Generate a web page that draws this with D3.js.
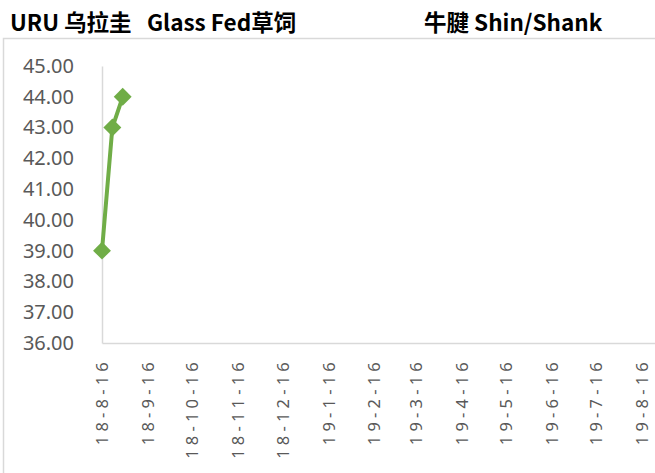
<!DOCTYPE html>
<html>
<head>
<meta charset="utf-8">
<script src="https://cdn.jsdelivr.net/npm/d3@7"></script>
<style>
  body { margin: 0; background: #fff; }
  svg { display: block; }
</style>
</head>
<body>
<svg id="chart"></svg>
<script>
const titleLeft = "URU 乌拉圭\u00a0\u00a0\u00a0Glass Fed草饲";
const titleRight = "牛腱 Shin/Shank";

const dates = ["2018-08-16", "2018-08-23", "2018-08-30"];
const prices = [39, 43, 44];

const tickDates = [
  "2018-08-16", "2018-09-16", "2018-10-16", "2018-11-16", "2018-12-16",
  "2019-01-16", "2019-02-16", "2019-03-16", "2019-04-16", "2019-05-16",
  "2019-06-16", "2019-07-16", "2019-08-16"
];
const yTicks = [36, 37, 38, 39, 40, 41, 42, 43, 44, 45];

const width = 655;
const height = 473;
const parse = d3.timeParse("%Y-%m-%d");

const svg = d3.select("#chart").attr("width", width).attr("height", height);

// outer chart border (runs off the right and bottom edges)
svg.append("rect")
  .attr("x", 3.5).attr("y", 38.5)
  .attr("width", width + 10).attr("height", height)
  .attr("fill", "none")
  .attr("stroke", "#d9d9d9")
  .attr("stroke-width", 1.5);

svg.append("text")
  .attr("x", 10).attr("y", 31)
  .attr("font-family", "'Noto Sans CJK SC', 'Noto Sans', sans-serif")
  .attr("font-weight", "bold")
  .attr("font-size", 22.5)
  .attr("fill", "#000")
  .text(titleLeft);

svg.append("text")
  .attr("x", 424).attr("y", 31)
  .attr("font-family", "'Noto Sans CJK SC', 'Noto Sans', sans-serif")
  .attr("font-weight", "bold")
  .attr("font-size", 22.5)
  .attr("fill", "#000")
  .text(titleRight);

const x = d3.scaleTime()
  .domain([parse("2018-08-16"), parse("2019-08-25")])
  .range([102, 655]);

const y = d3.scaleLinear()
  .domain([36, 45])
  .range([343, 66]);

// axis lines
svg.append("g")
  .attr("transform", "translate(0,343)")
  .call(d3.axisBottom(x).tickValues(tickDates.map(parse)).tickSize(0)
    .tickFormat(d3.timeFormat("%y-%-m-%-d")))
  .call(g => g.select(".domain").attr("stroke", "#d9d9d9").attr("stroke-width", 1.5))
  .call(g => g.selectAll("text")
    .attr("font-family", "'Noto Sans', sans-serif")
    .attr("font-size", 16.5)
    .attr("fill", "#595959")
    .attr("letter-spacing", 4.2)
    .attr("text-anchor", "end")
    .attr("transform", "rotate(-90)")
    .attr("x", -15)
    .attr("y", 0)
    .attr("dy", "0.35em"));

svg.append("g")
  .attr("transform", "translate(102,0)")
  .call(d3.axisLeft(y).tickValues(yTicks).tickSize(0).tickPadding(28)
    .tickFormat(d3.format(".2f")))
  .call(g => g.select(".domain").attr("stroke", "#d9d9d9").attr("stroke-width", 1.5))
  .call(g => g.selectAll("text")
    .attr("font-family", "'Noto Sans', sans-serif")
    .attr("font-size", 20)
    .attr("fill", "#595959"));

const data = dates.map((d, i) => ({ date: parse(d), value: prices[i] }));

const line = d3.line()
  .x(d => x(d.date))
  .y(d => y(d.value));

svg.append("path")
  .datum(data)
  .attr("d", line)
  .attr("fill", "none")
  .attr("stroke", "#70ad47")
  .attr("stroke-width", 4)
  .attr("stroke-linejoin", "round");

svg.selectAll(".marker")
  .data(data)
  .enter()
  .append("path")
  .attr("class", "marker")
  .attr("d", d3.symbol(d3.symbolSquare, 160))
  .attr("transform", d => `translate(${x(d.date)},${y(d.value)}) rotate(45)`)
  .attr("fill", "#70ad47");
</script>
</body>
</html>
